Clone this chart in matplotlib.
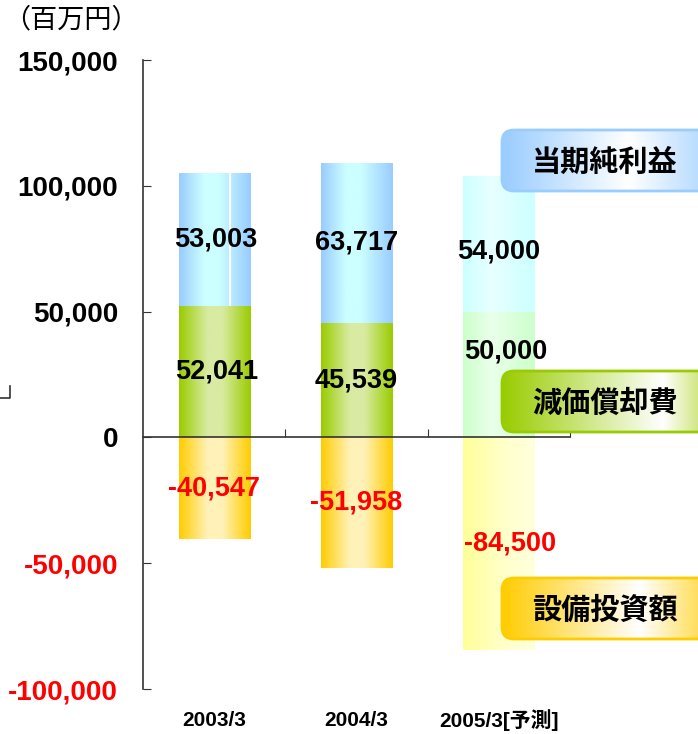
import numpy as np
import matplotlib.pyplot as plt
from matplotlib.colors import LinearSegmentedColormap
from matplotlib.patches import FancyBboxPatch

categories = ['2003/3', '2004/3', '2005/3[予測]']
net_income = [53003, 63717, 54000]
depreciation = [52041, 45539, 50000]
capex = [-40547, -51958, -84500]
legend_labels = ['当期純利益', '減価償却費', '設備投資額']
yticks = [-100000, -50000, 0, 50000, 100000, 150000]
ytick_labels = ['-100,000', '-50,000', '0', '50,000', '100,000', '150,000']

LAT = ['Liberation Sans', 'Noto Sans CJK JP']
CJK = ['Noto Sans CJK JP', 'DejaVu Sans']


def grad(colors, pos):
    return LinearSegmentedColormap.from_list('g', list(zip(pos, colors)))


def fill_gradient(ax, patch, cmap, zorder=2):
    b = patch.get_bbox()
    img = np.linspace(0, 1, 256).reshape(1, -1)
    im = ax.imshow(img, cmap=cmap, aspect='auto', interpolation='bicubic',
                   extent=[b.x0, b.x1, b.y0, b.y1], zorder=zorder)
    im.set_clip_path(patch)


# gradient styles (actual / forecast)
blue = grad(['#99CCFF', '#CCFFFF', '#CCFFFF', '#99CCFF'], [0, 0.35, 0.55, 1])
green = grad(['#99CC00', '#D9EBA3', '#D9EBA3', '#99CC00'], [0, 0.4, 0.6, 1])
gold = grad(['#FFCC00', '#FFF2B8', '#FFF2B8', '#FFCC00'], [0, 0.4, 0.6, 1])
blue_f = grad(['#CCFFFF', '#E8FFFF', '#CCFFFF'], [0, 0.4, 1])
green_f = grad(['#CCFFCC', '#EAFFEA', '#CCFFCC'], [0, 0.4, 1])
gold_f = grad(['#FFFF99', '#FFFFCC', '#FFFFDD'], [0, 0.6, 1])

fig = plt.figure(figsize=(6.98, 7.34), dpi=100)
ax = fig.add_axes([143 / 698, 1 - 689 / 734, 427 / 698, 629 / 734])

x = np.arange(len(categories)) + 0.5
w = 0.5
b_dep = ax.bar(x, depreciation, w, color='none', zorder=2)
b_net = ax.bar(x, net_income, w, bottom=depreciation, color='none', zorder=2)
b_cap = ax.bar(x, capex, w, color='none', zorder=2)

for i in range(len(categories)):
    fc = i == len(categories) - 1
    fill_gradient(ax, b_net[i], blue_f if fc else blue)
    fill_gradient(ax, b_dep[i], green_f if fc else green)
    fill_gradient(ax, b_cap[i], gold_f if fc else gold)

# thin white seam in the first bar
ax.vlines(x[0] + 0.11, depreciation[0], depreciation[0] + net_income[0],
          color='white', lw=1.5, zorder=3)

# value labels
lab_off = [(0.01, 0, 0.02, 0), (0, 0, 0, 0), (0, 3000, 0.05, 9000)]
for i in range(len(categories)):
    ox_n, oy_n, ox_d, oy_d = lab_off[i]
    ax.text(x[i] + ox_n, depreciation[i] + net_income[i] / 2 - oy_n,
            f'{net_income[i]:,}', ha='center', va='center', fontsize=19.5,
            fontweight='bold', family=LAT, zorder=5)
    ax.text(x[i] + ox_d, depreciation[i] / 2 + oy_d, f'{depreciation[i]:,}',
            ha='center', va='center', fontsize=19.5, fontweight='bold',
            family=LAT, zorder=5)
    ax.text(x[i] + (0.08 if i == 2 else 0), capex[i] / 2,
            f'{capex[i]:,}', ha='center', va='center', fontsize=19.5,
            fontweight='bold', family=LAT, color='red', zorder=5)

ax.set_xlim(0, 3)
ax.set_ylim(-100000, 150000)
ax.spines['top'].set_visible(False)
ax.spines['right'].set_visible(False)
ax.spines['bottom'].set_position(('data', 0))
ax.spines['bottom'].set_zorder(4)
for s in ['left', 'bottom']:
    ax.spines[s].set_color('#333333')
    ax.spines[s].set_linewidth(1.2)
ax.set_xticks([1, 2, 3])
ax.set_xticklabels([])
ax.tick_params(axis='x', direction='in', length=6, color='#333333')
ax.set_yticks(yticks)
ax.set_yticklabels(ytick_labels, fontsize=20, fontweight='bold', family=LAT)
ax.tick_params(axis='y', direction='in', length=6, pad=18, color='#333333')
for t, v in zip(ax.get_yticklabels(), yticks):
    if v < 0:
        t.set_color('red')

for xi, c in zip(x, categories):
    ax.text(xi, -0.05, c, transform=ax.get_xaxis_transform(), ha='center',
            va='center', fontsize=15, fontweight='bold', family=LAT)

# overlay in pixel coordinates for legend boxes and unit label
ov = fig.add_axes([0, 0, 1, 1], facecolor='none')
ov.set_xlim(0, 698)
ov.set_ylim(734, 0)
ov.axis('off')

ov.text(71, 20, '（百万円）', ha='center', va='center', fontsize=19.5, family=CJK)
ov.plot([0, 10, 10], [398, 398, 386], color='#333333', lw=1.2)

legend_styles = [
    (129, grad(['#99CCFF', '#FFFFFF', '#99CCFF'], [0, 0.55, 1]), '#99CCFF'),
    (370, grad(['#99CC00', '#FFFFFF', '#A8D010'], [0, 0.7, 1]), '#99CC00'),
    (577, grad(['#FFCC00', '#FFFFFF', '#FFCC00'], [0, 0.6, 1]), '#FFCC00'),
]
for (top, cm, ec), lab in zip(legend_styles, legend_labels):
    box = FancyBboxPatch((502, top + 1), 230, 61,
                         boxstyle='round,pad=0,rounding_size=12',
                         fc='none', ec=ec, lw=2, zorder=6)
    ov.add_patch(box)
    img = np.linspace(0, 1, 256).reshape(1, -1)
    im = ov.imshow(img, cmap=cm, aspect='auto', interpolation='bicubic',
                   extent=[502, 732, top + 62, top + 1], zorder=5)
    im.set_clip_path(box)
    ov.text(605, top + 33, lab, ha='center', va='center', fontsize=21,
            fontweight='bold', family=CJK, zorder=7)
ov.set_xlim(0, 698)
ov.set_ylim(734, 0)

fig.savefig('out.png', dpi=100)
